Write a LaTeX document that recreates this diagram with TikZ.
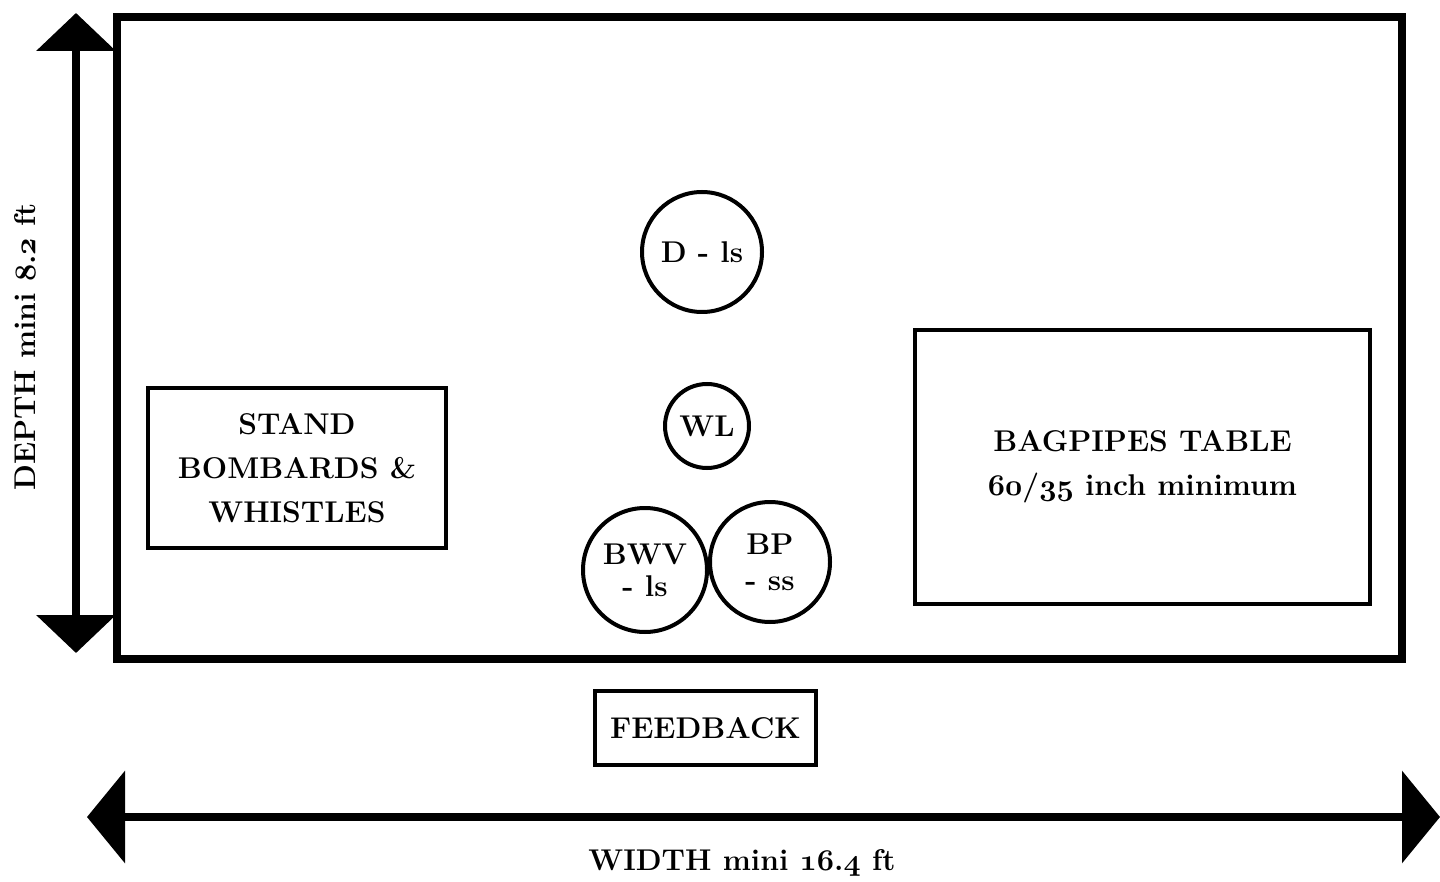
\documentclass[tikz,border=0pt]{standalone}
\usepackage{fix-cm}
\usetikzlibrary{arrows.meta}
\newcommand{\osn}[1]{{\usefont{OML}{cmm}{b}{it}#1}}
\begin{document}
\begin{tikzpicture}[x=1pt,y=-1pt,
  thin box/.style={draw=black,line width=4pt,inner sep=0pt,align=center,font=\lbl},
  spot/.style={draw=black,line width=4pt,circle,inner sep=0pt,align=center,font=\lbl},
  dimarrow/.style={line width=8pt,{Triangle[width=#1,length=38pt]}-{Triangle[width=#1,length=38pt]}},
  dimlabel/.style={font=\lbl}
]
\newcommand{\lbl}{\fontsize{30}{44}\selectfont\bfseries}
\useasboundingbox (0,0) rectangle (1440,882);
% stage
\draw[line width=8pt] (117,17) rectangle (1402,659);
% boxes
\node[thin box,minimum width=298pt,minimum height=160pt] (stand) at (297,468)
  {STAND\\BOMBARDS \&\\WHISTLES};
\node[thin box,minimum width=455pt,minimum height=274pt] (table) at (1142.5,467)
  {BAGPIPES TABLE\\\osn{60}/\osn{35} inch minimum};
\node[thin box,minimum width=221pt,minimum height=74pt] (feedback) at (705.5,728) {FEEDBACK};
% circles
\node[spot,minimum size=120pt] (d) at (702,252) {D - ls};
\node[spot,minimum size=84pt] (wl) at (707,426) {WL};
\node[spot,minimum size=124pt,font=\fontsize{30}{32}\selectfont\bfseries] (bwv) at (645,570) {BWV\\- ls};
\node[spot,minimum size=120pt,font=\fontsize{30}{36}\selectfont\bfseries] (bp) at (770,562) {BP\\- ss};
% dimension arrows
\coordinate (dtop) at (76,13);
\coordinate (dbot) at (76,653);
\draw[dimarrow=78pt] (dbot) -- (dtop);
\coordinate (wleft) at (87,817);
\coordinate (wright) at (1440,817);
\draw[dimarrow=91pt] (wleft) -- (wright);
\node[dimlabel,rotate=90] (depth) at (25,347) {DEPTH mini \osn{8}.\osn{2} ft};
\node[dimlabel] (width) at (742,863) {WIDTH mini \osn{16}.\osn{4} ft};
\end{tikzpicture}
\end{document}
